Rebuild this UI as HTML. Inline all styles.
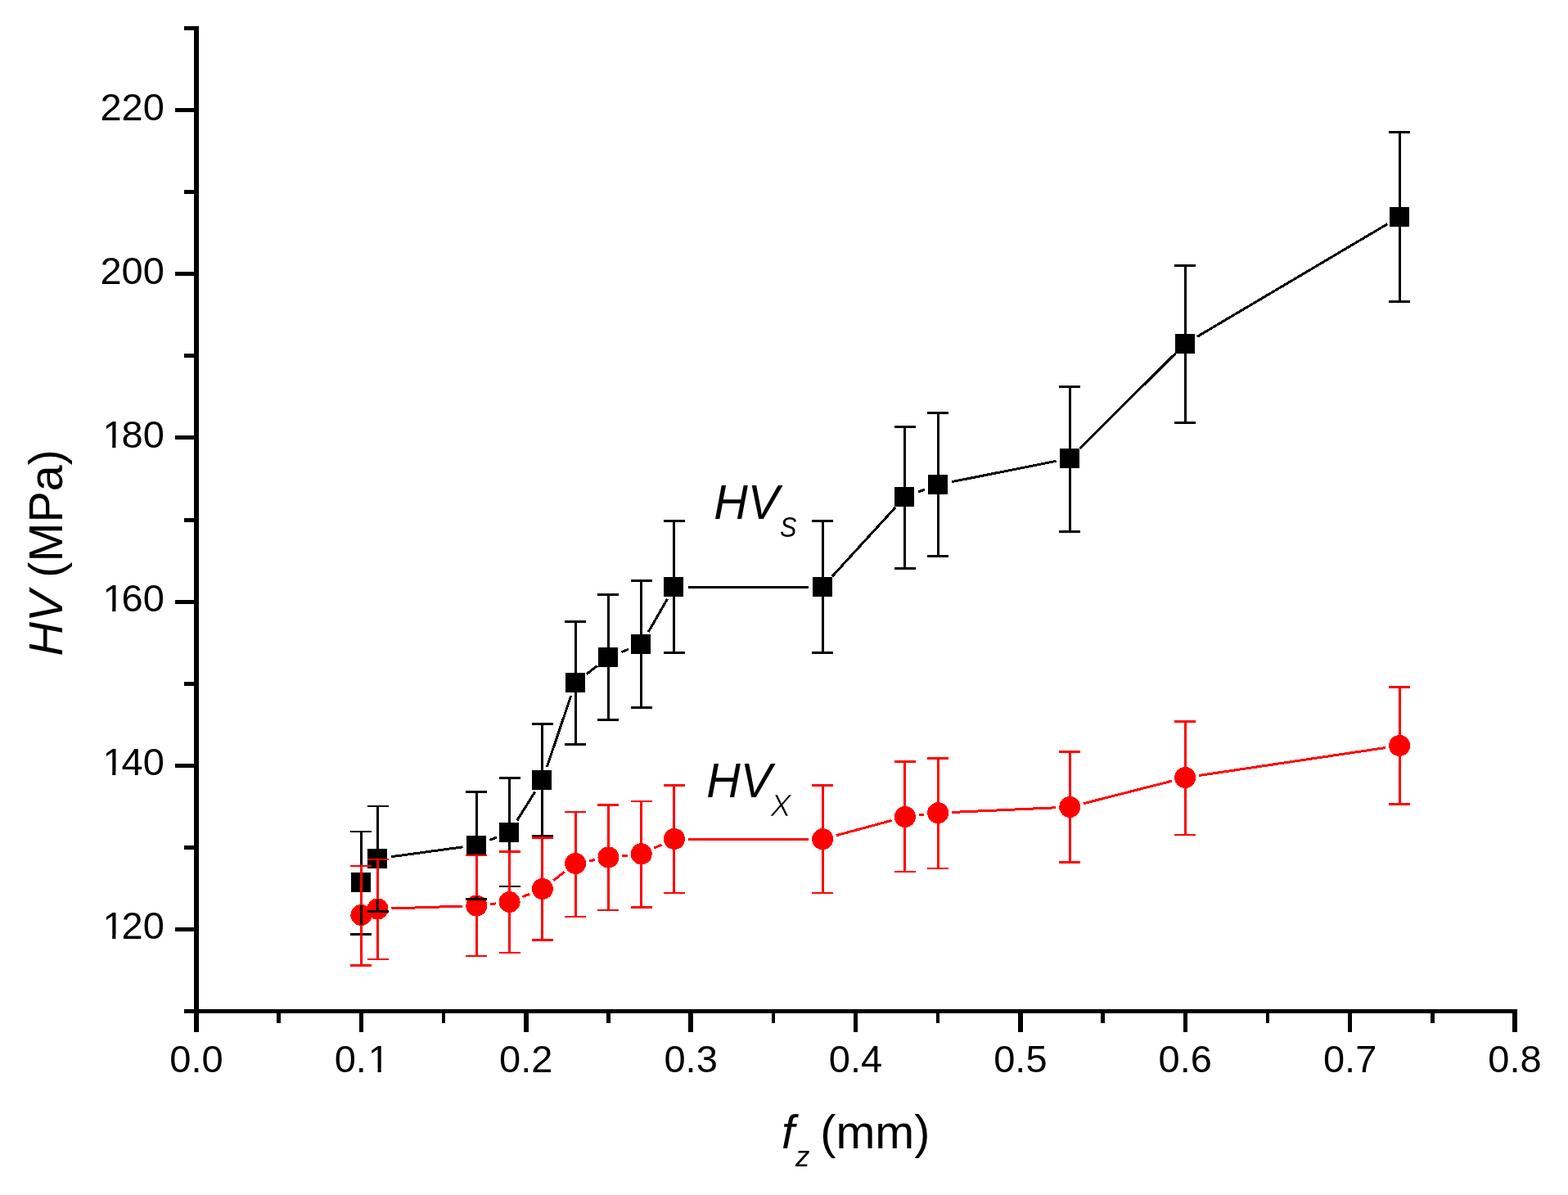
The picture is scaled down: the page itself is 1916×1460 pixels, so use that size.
<!DOCTYPE html><html><head><meta charset="utf-8"><title>HV vs fz</title><style>html,body{margin:0;padding:0;background:#fff;}svg{display:block;}</style></head><body><svg width="1916" height="1460" viewBox="0 0 1916 1460"><rect width="1916" height="1460" fill="#fff"/><g shape-rendering="crispEdges"><g fill="#000" shape-rendering="crispEdges"><rect x="237" y="32" width="6" height="1229"/><rect x="225" y="1233" width="1629" height="5"/><rect x="225" y="1233.1" width="18" height="5"/><rect x="214" y="1133" width="29" height="5"/><rect x="225" y="1032.9" width="18" height="5"/><rect x="214" y="932.8" width="29" height="5"/><rect x="225" y="832.7" width="18" height="5"/><rect x="214" y="732.6" width="29" height="5"/><rect x="225" y="632.5" width="18" height="5"/><rect x="214" y="532.4" width="29" height="5"/><rect x="225" y="432.3" width="18" height="5"/><rect x="214" y="332.2" width="29" height="5"/><rect x="225" y="232.1" width="18" height="5"/><rect x="214" y="132" width="29" height="5"/><rect x="225" y="31.9" width="18" height="5"/><rect x="237.25" y="1233" width="5.5" height="28"/><rect x="338.44" y="1233" width="4.5" height="17"/><rect x="438.62" y="1233" width="5.5" height="28"/><rect x="539.81" y="1233" width="4.5" height="17"/><rect x="640" y="1233" width="5.5" height="28"/><rect x="741.19" y="1233" width="4.5" height="17"/><rect x="841.38" y="1233" width="5.5" height="28"/><rect x="942.56" y="1233" width="4.5" height="17"/><rect x="1042.75" y="1233" width="5.5" height="28"/><rect x="1143.94" y="1233" width="4.5" height="17"/><rect x="1244.12" y="1233" width="5.5" height="28"/><rect x="1345.31" y="1233" width="4.5" height="17"/><rect x="1445.5" y="1233" width="5.5" height="28"/><rect x="1546.69" y="1233" width="4.5" height="17"/><rect x="1646.88" y="1233" width="5.5" height="28"/><rect x="1748.06" y="1233" width="4.5" height="17"/><rect x="1848.25" y="1233" width="5.5" height="28"/></g><g stroke="#000" stroke-width="3" stroke-linecap="butt"><line x1="478.36" y1="1046.7" x2="565.49" y2="1034.8"/><line x1="598.2" y1="1026.39" x2="606.75" y2="1023.11"/><line x1="631.67" y1="1002.61" x2="653.83" y2="967.39"/><line x1="668.34" y1="936.9" x2="697.71" y2="850.1"/><line x1="716.63" y1="823.63" x2="729.97" y2="813.37"/><line x1="759.24" y1="796.72" x2="767.91" y2="793.28"/><line x1="792.19" y1="772.26" x2="815.51" y2="731.74"/><line x1="840.99" y1="717" x2="988.23" y2="717"/><line x1="1016.7" y1="704.46" x2="1094.43" y2="619.54"/><line x1="1121.84" y1="601.07" x2="1130.26" y2="597.93"/><line x1="1162.86" y1="588.69" x2="1290.61" y2="563.31"/><line x1="1319.35" y1="548.02" x2="1436.19" y2="431.98"/><line x1="1462.88" y1="411.34" x2="1695.41" y2="273.66"/></g><g fill="#000"><rect x="429" y="1066" width="24" height="24"/><rect x="449" y="1037" width="24" height="24"/><rect x="570" y="1020.5" width="24" height="24"/><rect x="610" y="1005" width="24" height="24"/><rect x="650" y="941" width="24" height="24"/><rect x="691" y="822" width="24" height="24"/><rect x="731" y="791" width="24" height="24"/><rect x="771" y="775" width="24" height="24"/><rect x="811" y="705" width="24" height="24"/><rect x="993" y="705" width="24" height="24"/><rect x="1093" y="595" width="24" height="24"/><rect x="1134" y="580" width="24" height="24"/><rect x="1295" y="548" width="24" height="24"/><rect x="1436" y="408" width="24" height="24"/><rect x="1698" y="253" width="24" height="24"/></g><g stroke="#f00" stroke-width="3" stroke-linecap="butt"><line x1="478.5" y1="1109.94" x2="565.35" y2="1107.06"/><line x1="599.23" y1="1104.61" x2="605.72" y2="1103.89"/><line x1="638.41" y1="1095.72" x2="647.09" y2="1092.28"/><line x1="676.36" y1="1075.63" x2="689.69" y2="1065.37"/><line x1="719.88" y1="1051.89" x2="726.72" y2="1050.61"/><line x1="760.35" y1="1045.74" x2="766.8" y2="1045.06"/><line x1="799.19" y1="1036.27" x2="808.51" y2="1032.03"/><line x1="840.99" y1="1025.02" x2="988.23" y2="1025.18"/><line x1="1021.64" y1="1020.77" x2="1089.5" y2="1002.43"/><line x1="1122.79" y1="995.99" x2="1129.31" y2="995.21"/><line x1="1163.17" y1="992.44" x2="1290.3" y2="986.76"/><line x1="1323.76" y1="981.79" x2="1431.78" y2="954.21"/><line x1="1465.06" y1="947.5" x2="1693.22" y2="913.5"/></g><g fill="#f00"><circle cx="441.38" cy="1118" r="13"/><circle cx="461.51" cy="1110.5" r="13"/><circle cx="582.34" cy="1106.5" r="13"/><circle cx="622.61" cy="1102" r="13"/><circle cx="662.89" cy="1086" r="13"/><circle cx="703.16" cy="1055" r="13"/><circle cx="743.44" cy="1047.5" r="13"/><circle cx="783.71" cy="1043.3" r="13"/><circle cx="823.99" cy="1025" r="13"/><circle cx="1005.23" cy="1025.2" r="13"/><circle cx="1105.91" cy="998" r="13"/><circle cx="1146.19" cy="993.2" r="13"/><circle cx="1307.29" cy="986" r="13"/><circle cx="1448.25" cy="950" r="13"/><circle cx="1710.04" cy="911" r="13"/></g><g fill="#000"><rect x="439.88" y="1016" width="3" height="51"/><rect x="439.88" y="1089" width="3" height="52.5"/><rect x="428.38" y="1014.7" width="26" height="2.6"/><rect x="428.38" y="1140.2" width="26" height="2.6"/><rect x="460.01" y="985" width="3" height="53"/><rect x="460.01" y="1060" width="3" height="53.5"/><rect x="448.51" y="983.7" width="26" height="2.6"/><rect x="448.51" y="1112.2" width="26" height="2.6"/><rect x="580.84" y="967.5" width="3" height="54"/><rect x="580.84" y="1043.5" width="3" height="55"/><rect x="569.34" y="966.2" width="26" height="2.6"/><rect x="569.34" y="1097.2" width="26" height="2.6"/><rect x="621.11" y="950.5" width="3" height="55.5"/><rect x="621.11" y="1028" width="3" height="55"/><rect x="609.61" y="949.2" width="26" height="2.6"/><rect x="609.61" y="1081.7" width="26" height="2.6"/><rect x="661.39" y="884.5" width="3" height="57.5"/><rect x="661.39" y="964" width="3" height="57.5"/><rect x="649.89" y="883.2" width="26" height="2.6"/><rect x="649.89" y="1020.2" width="26" height="2.6"/><rect x="701.66" y="759.5" width="3" height="63.5"/><rect x="701.66" y="845" width="3" height="64.5"/><rect x="690.16" y="758.2" width="26" height="2.6"/><rect x="690.16" y="908.2" width="26" height="2.6"/><rect x="741.94" y="726.5" width="3" height="65.5"/><rect x="741.94" y="814" width="3" height="65.5"/><rect x="730.44" y="725.2" width="26" height="2.6"/><rect x="730.44" y="878.2" width="26" height="2.6"/><rect x="782.21" y="709.5" width="3" height="66.5"/><rect x="782.21" y="798" width="3" height="66.5"/><rect x="770.71" y="708.2" width="26" height="2.6"/><rect x="770.71" y="863.2" width="26" height="2.6"/><rect x="822.49" y="636.5" width="3" height="69.5"/><rect x="822.49" y="728" width="3" height="69.5"/><rect x="810.99" y="635.2" width="26" height="2.6"/><rect x="810.99" y="796.2" width="26" height="2.6"/><rect x="1003.73" y="636.5" width="3" height="69.5"/><rect x="1003.73" y="728" width="3" height="69.5"/><rect x="992.23" y="635.2" width="26" height="2.6"/><rect x="992.23" y="796.2" width="26" height="2.6"/><rect x="1104.41" y="521.5" width="3" height="74.5"/><rect x="1104.41" y="618" width="3" height="76.4"/><rect x="1092.91" y="520.2" width="26" height="2.6"/><rect x="1092.91" y="693.1" width="26" height="2.6"/><rect x="1144.69" y="504.5" width="3" height="76.5"/><rect x="1144.69" y="603" width="3" height="76.5"/><rect x="1133.19" y="503.2" width="26" height="2.6"/><rect x="1133.19" y="678.2" width="26" height="2.6"/><rect x="1305.79" y="472.5" width="3" height="76.5"/><rect x="1305.79" y="571" width="3" height="78.5"/><rect x="1294.29" y="471.2" width="26" height="2.6"/><rect x="1294.29" y="648.2" width="26" height="2.6"/><rect x="1446.75" y="324.5" width="3" height="84.5"/><rect x="1446.75" y="431" width="3" height="85.3"/><rect x="1435.25" y="323.2" width="26" height="2.6"/><rect x="1435.25" y="515" width="26" height="2.6"/><rect x="1708.54" y="161.4" width="3" height="92.6"/><rect x="1708.54" y="276" width="3" height="92.3"/><rect x="1697.04" y="160.1" width="26" height="2.6"/><rect x="1697.04" y="367" width="26" height="2.6"/></g><g fill="#f00"><rect x="439.88" y="1058" width="3" height="48"/><rect x="439.88" y="1130" width="3" height="49.5"/><rect x="428.38" y="1056.7" width="26" height="2.6"/><rect x="428.38" y="1178.2" width="26" height="2.6"/><rect x="460.01" y="1050" width="3" height="48.5"/><rect x="460.01" y="1122.5" width="3" height="49.5"/><rect x="448.51" y="1048.7" width="26" height="2.6"/><rect x="448.51" y="1170.7" width="26" height="2.6"/><rect x="580.84" y="1045" width="3" height="49.5"/><rect x="580.84" y="1118.5" width="3" height="49.5"/><rect x="569.34" y="1043.7" width="26" height="2.6"/><rect x="569.34" y="1166.7" width="26" height="2.6"/><rect x="621.11" y="1040.5" width="3" height="49.5"/><rect x="621.11" y="1114" width="3" height="50"/><rect x="609.61" y="1039.2" width="26" height="2.6"/><rect x="609.61" y="1162.7" width="26" height="2.6"/><rect x="661.39" y="1023.5" width="3" height="50.5"/><rect x="661.39" y="1098" width="3" height="50.5"/><rect x="649.89" y="1022.2" width="26" height="2.6"/><rect x="649.89" y="1147.2" width="26" height="2.6"/><rect x="701.66" y="992" width="3" height="51"/><rect x="701.66" y="1067" width="3" height="53"/><rect x="690.16" y="990.7" width="26" height="2.6"/><rect x="690.16" y="1118.7" width="26" height="2.6"/><rect x="741.94" y="983.5" width="3" height="52"/><rect x="741.94" y="1059.5" width="3" height="52.5"/><rect x="730.44" y="982.2" width="26" height="2.6"/><rect x="730.44" y="1110.7" width="26" height="2.6"/><rect x="782.21" y="979" width="3" height="52.3"/><rect x="782.21" y="1055.3" width="3" height="53.2"/><rect x="770.71" y="977.7" width="26" height="2.6"/><rect x="770.71" y="1107.2" width="26" height="2.6"/><rect x="822.49" y="959.5" width="3" height="53.5"/><rect x="822.49" y="1037" width="3" height="54"/><rect x="810.99" y="958.2" width="26" height="2.6"/><rect x="810.99" y="1089.7" width="26" height="2.6"/><rect x="1003.73" y="959.5" width="3" height="53.7"/><rect x="1003.73" y="1037.2" width="3" height="53.8"/><rect x="992.23" y="958.2" width="26" height="2.6"/><rect x="992.23" y="1089.7" width="26" height="2.6"/><rect x="1104.41" y="930.5" width="3" height="55.5"/><rect x="1104.41" y="1010" width="3" height="55"/><rect x="1092.91" y="929.2" width="26" height="2.6"/><rect x="1092.91" y="1063.7" width="26" height="2.6"/><rect x="1144.69" y="926.5" width="3" height="54.7"/><rect x="1144.69" y="1005.2" width="3" height="55.8"/><rect x="1133.19" y="925.2" width="26" height="2.6"/><rect x="1133.19" y="1059.7" width="26" height="2.6"/><rect x="1305.79" y="918.5" width="3" height="55.5"/><rect x="1305.79" y="998" width="3" height="55.5"/><rect x="1294.29" y="917.2" width="26" height="2.6"/><rect x="1294.29" y="1052.2" width="26" height="2.6"/><rect x="1446.75" y="881.5" width="3" height="56.5"/><rect x="1446.75" y="962" width="3" height="58"/><rect x="1435.25" y="880.2" width="26" height="2.6"/><rect x="1435.25" y="1018.7" width="26" height="2.6"/><rect x="1708.54" y="839.5" width="3" height="59.5"/><rect x="1708.54" y="923" width="3" height="59.5"/><rect x="1697.04" y="838.2" width="26" height="2.6"/><rect x="1697.04" y="981.2" width="26" height="2.6"/></g></g><g fill="#000" font-family="'Liberation Sans', Arial, sans-serif"><text x="125.38" y="1146.7" font-size="47">1<tspan dx="-3">20</tspan></text><text x="125.38" y="946.7" font-size="47">1<tspan dx="-3">40</tspan></text><text x="125.38" y="746.7" font-size="47">1<tspan dx="-3">60</tspan></text><text x="125.38" y="546.7" font-size="47">1<tspan dx="-3">80</tspan></text><text x="122.38" y="346.7" font-size="47">200</text><text x="122.38" y="146.7" font-size="47">220</text><text x="240" y="1309.5" text-anchor="middle" font-size="47">0.0</text><text x="408.71" y="1309.5" font-size="47">0.<tspan dx="1.8">1</tspan></text><text x="642.75" y="1309.5" text-anchor="middle" font-size="47">0.2</text><text x="844.12" y="1309.5" text-anchor="middle" font-size="47">0.3</text><text x="1045.5" y="1309.5" text-anchor="middle" font-size="47">0.4</text><text x="1246.88" y="1309.5" text-anchor="middle" font-size="47">0.5</text><text x="1448.25" y="1309.5" text-anchor="middle" font-size="47">0.6</text><text x="1649.62" y="1309.5" text-anchor="middle" font-size="47">0.7</text><text x="1851" y="1309.5" text-anchor="middle" font-size="47">0.8</text><text transform="translate(76,801.5) rotate(-90)" font-size="57.5"><tspan font-style="italic">HV</tspan> (MPa)</text><text x="955" y="1403" font-size="57.5" font-style="italic">f</text><text x="972" y="1425" font-size="35" font-style="italic">z</text><text x="1002.3" y="1403" font-size="57.5">(mm)</text><text transform="translate(872.2,633.8) scale(1,1.03)" font-size="57.5" font-style="italic">HV</text><text transform="translate(953.1,655.7) scale(0.86,1)" font-size="35.5" font-style="italic">S</text><text transform="translate(863.2,973.9) scale(1,1.03)" font-size="57.5" font-style="italic">HV</text><text transform="translate(941.6,997) scale(1.03,1)" font-size="36.5" font-style="italic" stroke="#fff" stroke-width="0.7">X</text></g><g fill="#fff"><rect x="128.36" y="1142.49" width="8.84" height="4.81"/><rect x="141.36" y="1142.49" width="8.47" height="4.81"/><rect x="128.36" y="942.49" width="8.84" height="4.81"/><rect x="141.36" y="942.49" width="8.47" height="4.81"/><rect x="128.36" y="742.49" width="8.84" height="4.81"/><rect x="141.36" y="742.49" width="8.47" height="4.81"/><rect x="128.36" y="542.49" width="8.84" height="4.81"/><rect x="141.36" y="542.49" width="8.47" height="4.81"/><rect x="452.68" y="1305.29" width="8.84" height="4.81"/><rect x="465.68" y="1305.29" width="8.47" height="4.81"/></g></svg></body></html>
